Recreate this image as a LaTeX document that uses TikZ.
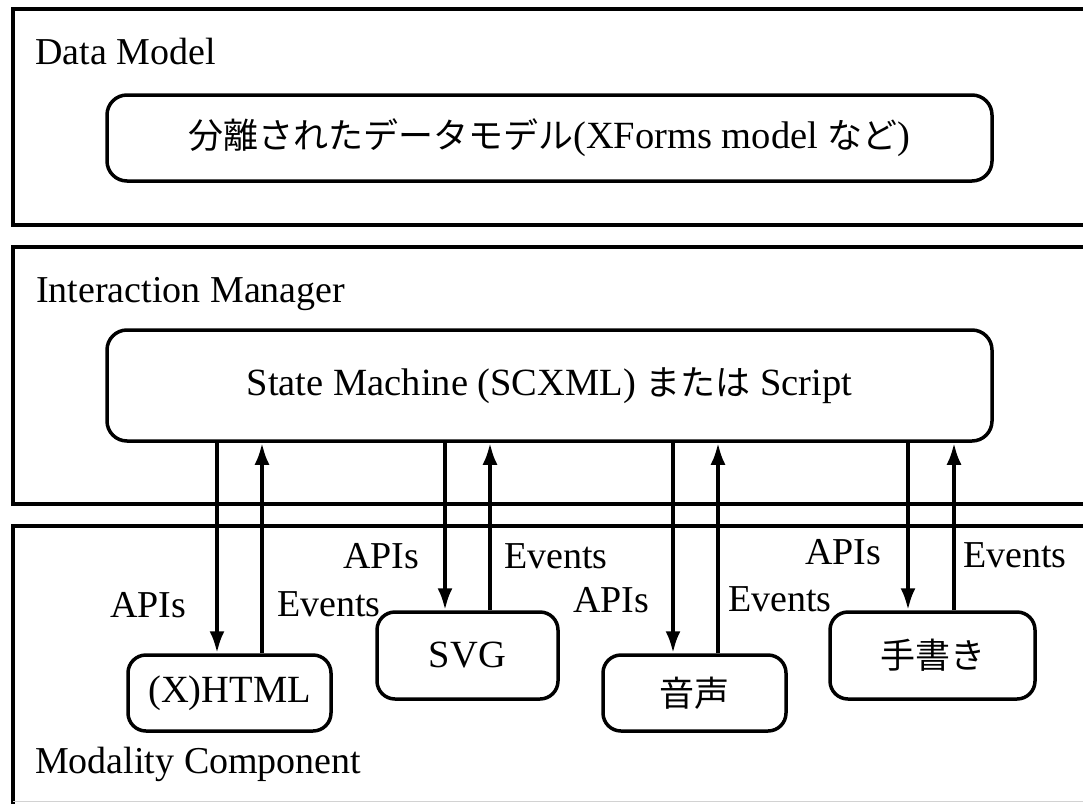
\documentclass[tikz,border=0pt]{standalone}
\usepackage{fontspec}
\setmainfont{Liberation Serif}
\newfontfamily\jp{Noto Sans CJK JP}
\newcommand{\jpt}[1]{{\jp\fontsize{35}{38}\selectfont #1}}
\usetikzlibrary{arrows.meta}
\begin{document}
\begin{tikzpicture}[x=1pt,y=-1pt,
  frame/.style={line width=3.3pt},
  rbox/.style={draw,line width=3.5pt,rounded corners=20pt,inner sep=0pt,
    font=\fontsize{38.5}{41}\selectfont},
  lbl/.style={font=\fontsize{38}{41}\selectfont,inner sep=0pt,anchor=base west},
  arr/.style={line width=4pt,-{Latex[length=22pt,width=15pt]}}]
\useasboundingbox (0,0) rectangle (1083,803);
\clip (0,0) rectangle (1083,803);
\fill[white] (0,0) rectangle (1083,803);
% layer frames
\draw[frame] (1100,9) -- (13,9) -- (13,225) -- (1100,225);
\draw[frame] (1100,247) -- (13,247) -- (13,504) -- (1100,504);
\draw[frame] (1100,526) -- (13,526) -- (13,815);
\draw[gray!35,line width=1pt] (13,801) -- (1100,801);
% layer labels
\node[lbl] (ldm) at (35,64) {Data Model};
\node[lbl] (lim) at (36,302) {Interaction Manager};
\node[lbl] (lmc) at (35,773) {Modality Component};
% boxes
\node[rbox,minimum width=885pt,minimum height=86pt] (dm) at (549.5,138)
  {\jpt{分離されたデータモデル}(XForms model \jpt{など})};
\node[rbox,minimum width=885pt,minimum height=111pt] (sm) at (549.5,385.5)
  {State Machine (SCXML) \jpt{または} Script};
\node[rbox,minimum width=203pt,minimum height=76pt,rounded corners=18pt] (html) at (229.5,693) {(X)HTML};
\node[rbox,minimum width=181pt,minimum height=87pt,rounded corners=18pt] (svg) at (467.5,655.5) {SVG};
\node[rbox,minimum width=183pt,minimum height=76pt,rounded corners=18pt] (onsei) at (694.5,693) {\jpt{音声}};
\node[rbox,minimum width=205pt,minimum height=87pt,rounded corners=18pt] (tegaki) at (932.5,655.5) {\jpt{手書き}};
% arrow x positions
\coordinate (d1) at (217,0); \coordinate (u1) at (262,0);
\coordinate (d2) at (445,0); \coordinate (u2) at (490,0);
\coordinate (d3) at (673,0); \coordinate (u3) at (718,0);
\coordinate (d4) at (908,0); \coordinate (u4) at (954,0);
\draw[arr] (sm.south -| d1) -- (html.north -| d1);
\draw[arr] (html.north -| u1) -- (sm.south -| u1);
\draw[arr] (sm.south -| d2) -- (svg.north -| d2);
\draw[arr] (svg.north -| u2) -- (sm.south -| u2);
\draw[arr] (sm.south -| d3) -- (onsei.north -| d3);
\draw[arr] (onsei.north -| u3) -- (sm.south -| u3);
\draw[arr] (sm.south -| d4) -- (tegaki.north -| d4);
\draw[arr] (tegaki.north -| u4) -- (sm.south -| u4);
% arrow labels
\node[lbl] (a1) at (110,617) {APIs};
\node[lbl] (e1) at (277,616) {Events};
\node[lbl] (a2) at (343,568) {APIs};
\node[lbl] (e2) at (504,568) {Events};
\node[lbl] (a3) at (573,612) {APIs};
\node[lbl] (e3) at (728,611) {Events};
\node[lbl] (a4) at (805,564) {APIs};
\node[lbl] (e4) at (963,567) {Events};
\end{tikzpicture}
\end{document}
